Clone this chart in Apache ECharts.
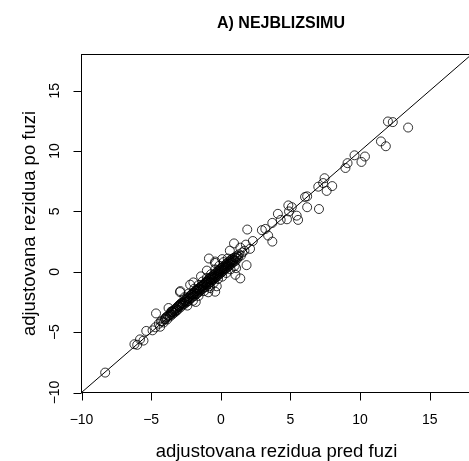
<!DOCTYPE html>
<html>
<head>
<meta charset="utf-8">
<script src="https://cdn.jsdelivr.net/npm/echarts@6/dist/echarts.min.js"></script>
<style>
html,body{margin:0;padding:0;background:#fff;overflow:hidden;}
#chart{width:469px;height:461px;}
</style>
</head>
<body>
<div id="chart"></div>
<script>
// Data: [adjustovana rezidua pred fuzi, adjustovana rezidua po fuzi]
const upperPoints = [
  [12.0,12.45],[12.35,12.4],[13.45,11.95],[11.5,10.8],[11.85,10.4],[9.6,9.65],[10.35,9.55],
  [10.1,9.1],[9.1,9.0],[8.95,8.6],[7.45,7.75],[7.35,7.35],[7.0,7.05],[8.0,7.1],[7.6,6.7],
  [6.2,6.25],[6.05,6.2],[6.2,5.35],[7.05,5.2],[4.85,5.5],[5.1,5.35],[4.9,5.0],[5.45,4.65],
  [5.55,4.3],[4.75,4.35],[4.1,4.8],[4.3,4.3],[3.7,4.05],[2.95,3.45],[3.2,3.55],[1.9,3.5],
  [3.4,3.0],[3.7,2.5],[2.3,2.55],[2.1,1.9],[1.8,2.25],[0.95,2.35],[1.4,2.0],[1.85,0.55],
  [1.1,0.3],[1.05,-0.25],[1.4,-0.55],[0.65,1.75],[-0.85,1.1],[-0.4,0.85],[0.1,1.05],[-1.0,0.1],
  [-2.9,-1.6],[-4.65,-3.45],[-1.8,-2.5],[-0.4,-1.65],[-0.9,-1.7]
];
const lowerPoints = [
  [-5.35,-4.9],[-4.9,-4.85],[-4.7,-4.6],[-4.35,-4.55],[-4.0,-3.95],[-3.75,-3.0],[-3.55,-3.3],
  [-6.2,-6.0],[-6.0,-6.05],[-5.8,-5.6],[-5.55,-5.7],[-8.3,-8.35],[-4.45,-4.3],[-4.2,-4.1]
];
const clusterPoints = [
  [-4.3,-4.1],[-4.1,-4.2],[-4.0,-3.9],[-3.9,-3.75],[-3.85,-3.95],[-3.7,-3.6],[-3.65,-3.7],
  [-3.6,-3.45],[-3.55,-3.3],[-3.5,-3.55],[-3.45,-3.35],[-3.4,-3.2],[-3.35,-3.4],[-3.3,-3.1],
  [-3.25,-3.3],[-3.2,-3.05],[-3.15,-2.95],[-3.1,-3.15],[-3.05,-2.85],[-3.0,-2.9],[-2.95,-2.75],
  [-2.93,-1.68],[-2.9,-2.95],[-2.85,-2.6],[-2.8,-2.8],[-2.75,-2.55],[-2.7,-2.7],[-2.65,-2.45],
  [-2.6,-2.65],[-2.55,-2.35],[-2.5,-2.55],[-2.45,-2.3],[-2.4,-2.45],[-2.35,-2.15],[-2.3,-2.4],
  [-2.25,-2.05],[-2.2,-1.07],[-2.2,-2.25],[-2.15,-1.95],[-2.1,-2.15],[-2.05,-1.85],[-2.0,-2.05],
  [-1.97,-0.88],[-1.95,-1.75],[-1.9,-2.0],[-1.85,-1.6],[-1.78,-1.85],[-1.75,-1.55],[-1.7,-1.8],
  [-1.65,-1.45],[-1.6,-1.7],[-1.55,-1.35],[-1.5,-1.6],[-1.45,-1.25],[-1.42,-0.38],[-1.4,-1.5],
  [-1.35,-1.15],[-1.3,-1.4],[-1.25,-1.05],[-1.2,-1.3],[-1.15,-0.95],[-1.1,-1.25],[-1.05,-0.85],
  [-1.0,-1.1],[-0.95,-0.75],[-0.9,-1.0],[-0.85,-0.6],[-0.8,-0.9],[-0.77,-1.35],[-0.75,-0.5],
  [-0.7,-0.85],[-0.65,-0.4],[-0.6,-0.7],[-0.55,-0.3],[-0.5,-0.6],[-0.45,-0.2],[-0.41,0.73],
  [-0.4,-0.5],[-0.35,-0.1],[-0.3,-0.4],[-0.29,-1.2],[-0.25,0.0],[-0.2,-0.3],[-0.15,0.1],
  [-0.1,-0.2],[-0.05,0.2],[0.0,-0.1],[0.05,0.3],[0.1,0.0],[0.15,0.4],[0.2,0.1],[0.25,0.5],
  [0.3,0.2],[0.35,0.6],[0.4,0.3],[0.45,0.7],[0.5,0.4],[0.55,0.8],[0.6,0.5],[0.65,0.9],
  [0.7,0.6],[0.75,1.0],[0.8,0.7],[0.85,1.1],[0.9,0.8],[1.0,1.2],[1.05,0.9],[1.15,1.3],
  [1.2,1.1],[1.3,1.45],[1.45,1.35],[1.55,1.6],[1.7,1.75],
  [-3.95,-3.8],[-3.8,-3.65],[-3.62,-3.55],[-3.48,-3.3],[-3.32,-3.25],[-3.18,-3.2],[-3.02,-2.8],
  [-2.88,-2.7],[-2.72,-2.6],[-2.58,-2.5],[-2.42,-2.2],[-2.28,-2.2],[-2.12,-1.9],[-1.98,-1.9],
  [-1.88,-1.8],[-1.72,-1.6],[-1.58,-1.5],[-1.48,-1.4],[-1.32,-1.2],[-1.22,-1.1],[-1.08,-1.0],
  [-0.98,-0.9],[-0.88,-0.8],[-0.72,-0.65],[-0.62,-0.55],[-0.52,-0.45],[-0.42,-0.35],[-0.32,-0.25],
  [-0.22,-0.15],[-0.12,-0.05],[-0.02,0.05],[0.08,0.15],[0.18,0.25],[0.28,0.35],[0.38,0.45],
  [0.48,0.55],[0.58,0.65],[0.68,0.75],[0.78,0.85],[0.88,0.95],[0.98,1.0],[1.1,1.15],[1.25,1.25],
  [-2.6,-2.1],[-2.3,-1.8],[-1.9,-1.4],[-1.6,-1.1],[-1.3,-0.8],[-1.0,-0.5],[-0.7,-0.2],
  [-0.4,0.2],[-0.1,0.5],[0.2,0.8],[0.5,1.1],[-2.4,-2.8],[-2.0,-2.4],[-1.6,-2.0],[-1.2,-1.6],
  [-0.8,-1.2],[-0.5,-0.9],[-0.2,-0.6],[0.1,-0.4],[0.4,-0.1],[0.7,0.2],[1.0,0.5]
];
const refLine = [[-10,-10],[18,18]]; // y = x reference
const axisTicks = [-10,-5,0,5,10,15];
const titleText = 'A) NEJBLIZSIMU';
const xTitle = 'adjustovana rezidua pred fuzi';
const yTitle = 'adjustovana rezidua po fuzi';

const allPoints = clusterPoints.concat(lowerPoints, upperPoints);
const FONT = '"Liberation Sans", Arial, Helvetica, sans-serif';
const fmt = v => String(v).replace('-', '\u2212');
const AXMIN = -10, AXMAX = 18, TICKLEN = 8;

const chart = echarts.init(document.getElementById('chart'), null, {renderer:'canvas'});
chart.setOption({
  animation:false,
  backgroundColor:'#fff',
  title:{
    text:titleText, left:276, top:11, textAlign:'center',
    textStyle:{fontFamily:FONT, fontSize:16, fontWeight:'bold', color:'#000'}
  },
  grid:{left:81.5, top:54.5, width:390, height:338, containLabel:false, outerBoundsMode:'none',
    show:true, borderColor:'#000', borderWidth:1, backgroundColor:'transparent'},
  xAxis:{
    type:'value', min:AXMIN, max:AXMAX, interval:5,
    name:xTitle, nameLocation:'middle', nameGap:50,
    nameTextStyle:{fontFamily:FONT, fontSize:18.5, color:'#000'},
    axisLine:{show:true, onZero:false, lineStyle:{color:'#000', width:1}},
    splitLine:{show:false},
    axisTick:{show:false},
    axisLabel:{show:true, margin:21, fontFamily:FONT, fontSize:14, color:'#000', customValues:axisTicks, formatter:fmt}
  },
  yAxis:{
    type:'value', min:AXMIN, max:AXMAX, interval:5,
    name:yTitle, nameLocation:'middle', nameGap:42, nameRotate:90,
    nameTextStyle:{fontFamily:FONT, fontSize:18.5, color:'#000'},
    axisLine:{show:true, onZero:false, lineStyle:{color:'#000', width:1}},
    splitLine:{show:false},
    axisTick:{show:false},
    axisLabel:{show:true, margin:19, rotate:90, fontFamily:FONT, fontSize:14, color:'#000', customValues:axisTicks, formatter:fmt}
  },
  series:[
    {
      type:'line', data:refLine, symbol:'none', silent:true, clip:true,
      lineStyle:{color:'#000', width:1}
    },
    {
      type:'scatter', data:allPoints, symbol:'circle', symbolSize:9, clip:true,
      itemStyle:{color:'rgba(0,0,0,0)', borderColor:'#000', borderWidth:1}
    }
  ]
});

// Tick marks: positions come from the chart's own axis scales
const tickGraphics = [];
axisTicks.forEach(v => {
  const px = chart.convertToPixel({gridIndex:0}, [v, AXMIN]);
  tickGraphics.push({type:'line', z:100, silent:true,
    shape:{x1:Math.round(px[0]) + 0.5, y1:px[1], x2:Math.round(px[0]) + 0.5, y2:px[1] + TICKLEN},
    style:{stroke:'#000', lineWidth:1}});
  const py = chart.convertToPixel({gridIndex:0}, [AXMIN, v]);
  tickGraphics.push({type:'line', z:100, silent:true,
    shape:{x1:py[0], y1:Math.round(py[1]) + 0.5, x2:py[0] - TICKLEN, y2:Math.round(py[1]) + 0.5},
    style:{stroke:'#000', lineWidth:1}});
});
chart.setOption({graphic:tickGraphics});
</script>
</body>
</html>
